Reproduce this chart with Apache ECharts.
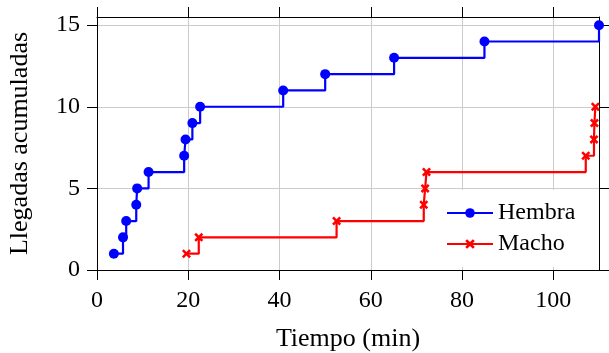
<!DOCTYPE html>
<html>
<head>
<meta charset="utf-8">
<script src="https://cdn.jsdelivr.net/npm/echarts@6/dist/echarts.min.js"></script>
<style>
  html, body { margin: 0; padding: 0; background: #fff; }
  #chart { width: 609px; height: 353px; }
</style>
</head>
<body>
<div id="chart"></div>
<script>
// Arrival times (minutes) and cumulative counts
const hembraTime  = [3.7, 5.7, 6.4, 8.6, 8.8, 11.3, 19.1, 19.4, 20.9, 22.6, 40.8, 50.0, 65.1, 84.9, 110.0];
const hembraCount = [1, 2, 3, 4, 5, 6, 7, 8, 9, 10, 11, 12, 13, 14, 15];
const machoTime   = [19.6, 22.3, 52.5, 71.6, 71.9, 72.2, 107.1, 108.9, 109.0, 109.2];
const machoCount  = [1, 2, 3, 4, 5, 6, 7, 8, 9, 10];

const xTicks = [0, 20, 40, 60, 80, 100];
const yTicks = [0, 5, 10, 15];
const xRange = [0, 110];
const yRange = [0, 15.5];

const FONT = '"Liberation Serif", "Times New Roman", serif';

const pairs = (xs, ys) => xs.map((x, i) => [x, ys[i]]);

// Cross marker drawn as a filled polygon
const crossPath = 'path://M2,0 L5,3 L8,0 L10,2 L7,5 L10,8 L8,10 L5,7 L2,10 L0,8 L3,5 L0,2 Z';

const axisLineStyle = { color: '#000', width: 1 };

function xAxisDef(pos, main) {
  return {
    type: 'value', position: pos, min: xRange[0], max: xRange[1],
    axisLine: { show: true, onZero: false, lineStyle: axisLineStyle },
    axisTick: { show: true, inside: false, length: 10, customValues: xTicks, lineStyle: axisLineStyle },
    axisLabel: main ? { show: true, customValues: xTicks, margin: 19, fontFamily: FONT, fontSize: 24, color: '#000' } : { show: false },
    splitLine: main ? { show: true, lineStyle: { color: '#cccccc', width: 1 } } : { show: false },
    name: main ? 'Tiempo (min)' : '',
    nameLocation: 'middle', nameGap: 56,
    nameTextStyle: { fontFamily: FONT, fontSize: 26, color: '#000' }
  };
}
function yAxisDef(pos, main) {
  return {
    type: 'value', position: pos, min: yRange[0], max: yRange[1],
    axisLine: { show: true, onZero: false, lineStyle: axisLineStyle },
    axisTick: { show: true, inside: false, length: 10, customValues: yTicks, lineStyle: axisLineStyle },
    axisLabel: main ? { show: true, customValues: yTicks, margin: 17, fontFamily: FONT, fontSize: 24, color: '#000' } : { show: false },
    splitLine: main ? { show: true, lineStyle: { color: '#cccccc', width: 1 } } : { show: false },
    name: main ? 'Llegadas acumuladas' : '',
    nameLocation: 'middle', nameGap: 64, nameRotate: 90,
    nameTextStyle: { fontFamily: FONT, fontSize: 26, color: '#000' }
  };
}

const chart = echarts.init(document.getElementById('chart'), null, { renderer: 'canvas' });
chart.setOption({
  animation: false,
  backgroundColor: '#fff',
  grid: { left: 97, top: 17, width: 502, height: 253, containLabel: false, outerBoundsMode: 'none' },
  xAxis: [xAxisDef('bottom', true), xAxisDef('top', false)],
  yAxis: [yAxisDef('left', true), yAxisDef('right', false)],
  legend: {
    orient: 'vertical', left: 440, top: 190,
    padding: [11, 6, 11, 6], itemGap: 7,
    itemWidth: 46, itemHeight: 12,
    backgroundColor: '#fff', borderWidth: 0,
    textStyle: { fontFamily: FONT, fontSize: 24, color: '#000' },
    data: ['Hembra', 'Macho']
  },
  series: [
    {
      name: 'Hembra', type: 'line', step: 'end', clip: false,
      xAxisIndex: 0, yAxisIndex: 0,
      data: pairs(hembraTime, hembraCount),
      symbol: 'circle', symbolSize: 10, showAllSymbol: true,
      lineStyle: { color: '#0000ff', width: 2.2 },
      itemStyle: { color: '#0000ff' }
    },
    {
      name: 'Macho', type: 'line', step: 'end', clip: false,
      xAxisIndex: 0, yAxisIndex: 0,
      data: pairs(machoTime, machoCount),
      symbol: crossPath, symbolSize: 9, showAllSymbol: true,
      lineStyle: { color: '#ff0000', width: 2.2 },
      itemStyle: { color: '#ff0000' }
    }
  ]
});
</script>
</body>
</html>
